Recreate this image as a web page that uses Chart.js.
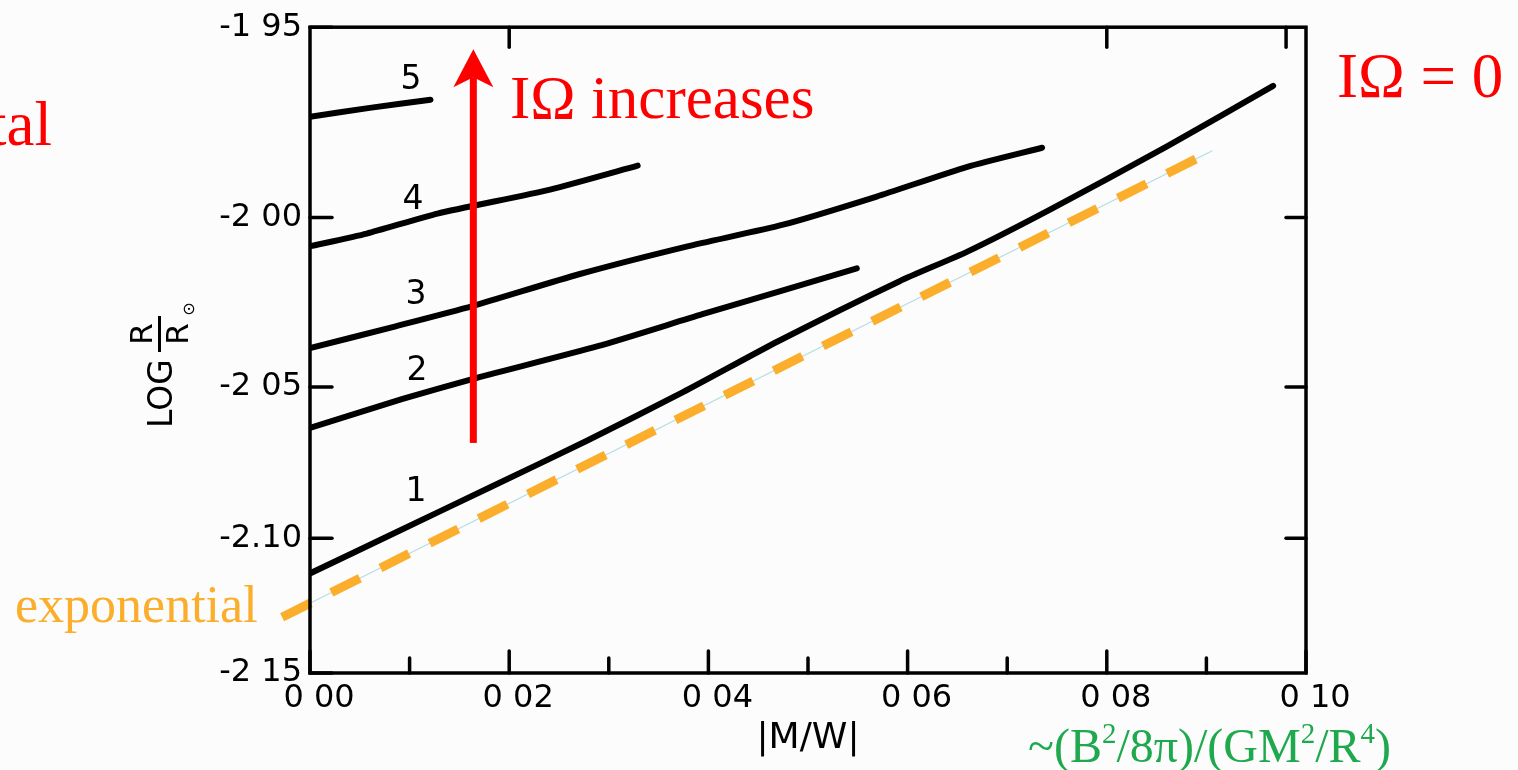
<!DOCTYPE html>
<html><head><meta charset="utf-8">
<script src="https://cdn.jsdelivr.net/npm/chart.js@4.4.1/dist/chart.umd.min.js"></script>
<style>html,body{margin:0;padding:0;background:#fcfcfc;overflow:hidden}#wrap{width:1518px;height:770px;position:relative}canvas{display:block}</style>
</head><body><div id="wrap"><canvas id="c" width="1518" height="770"></canvas></div>
<script>
// ---- data (y values are LOG R/R_sun) ----
const xTickValues = [0, 0.02, 0.04, 0.06, 0.08, 0.10];
const xTickLabels = ['0 00', '0 02', '0 04', '0 06', '0 08', '0 10'];
const xMinorTicks = [0.01, 0.03, 0.05, 0.07, 0.09];
const xTopTicks = [0.02, 0.08, 0.098];
const yTickValues = [-1.95, -2.00, -2.05, -2.10, -2.15];
const yTickLabels = ['-1 95', '-2 00', '-2 05', '-2.10', '-2 15'];
const yRightTicks = [-2.00, -2.05, -2.10];

const curve1X = [0, 0.0086, 0.0182, 0.0278, 0.0375, 0.0470, 0.0592, 0.0660, 0.0743, 0.0860, 0.0967];
const curve1Y = [-2.1125, -2.0980, -2.0823, -2.0671, -2.0515, -2.0359, -2.0181, -2.0096, -1.9978, -1.9807, -1.9648];
const curve2X = [0, 0.0093, 0.0163, 0.0289, 0.0394, 0.0549];
const curve2Y = [-2.0629, -2.0537, -2.0475, -2.0374, -2.0278, -2.0144];
const curve3X = [0, 0.0086, 0.0163, 0.0270, 0.0379, 0.0475, 0.0569, 0.0660, 0.0735];
const curve3Y = [-2.0380, -2.0314, -2.0254, -2.0161, -2.0081, -2.0020, -1.9942, -1.9861, -1.9810];
const curve4X = [0, 0.0057, 0.0128, 0.0241, 0.0329];
const curve4Y = [-2.0081, -2.0045, -1.9989, -1.9923, -1.9858];
const curve5X = [0, 0.0060, 0.0121];
const curve5Y = [-1.9728, -1.9705, -1.9684];
const curveNames = ['1', '2', '3', '4', '5'];

const expX = [-0.0028, 0.0894];
const expY = [-2.1286, -1.9834];
const guideX = [0, 0.0906];
const guideY = [-2.1234, -1.9818];

const arrowX = 0.0164;
const arrowFromY = -2.0678;
const arrowToY = -1.9555;

// the printed axis is linear in R, labelled in LOG R
const toR = v => Math.pow(10, v);
const pts = (xs, ys) => xs.map((x, i) => ({ x: x, y: toR(ys[i]) }));

const SANS = '"DejaVu Sans", Arial, sans-serif';
const SERIF = '"Liberation Serif", "Times New Roman", serif';

const curveStyle = {
  borderColor: '#000', borderWidth: 6, pointRadius: 0, tension: 0.2, order: 0,
  borderCapStyle: 'round', borderJoinStyle: 'round', fill: false
};

const datasets = [
  { label: 'guide', data: pts(guideX, guideY), borderColor: '#b3dde2', borderWidth: 1.2, pointRadius: 0, fill: false, clip: false, order: 10 },
  { label: 'exponential', data: pts(expX, expY), borderColor: '#fbae2c', borderWidth: 9, borderDash: [32, 23], borderCapStyle: 'butt', pointRadius: 0, fill: false, clip: false, order: 5 },
  Object.assign({ label: curveNames[0], data: pts(curve1X, curve1Y) }, curveStyle),
  Object.assign({ label: curveNames[1], data: pts(curve2X, curve2Y) }, curveStyle),
  Object.assign({ label: curveNames[2], data: pts(curve3X, curve3Y) }, curveStyle),
  Object.assign({ label: curveNames[3], data: pts(curve4X, curve4Y) }, curveStyle),
  Object.assign({ label: curveNames[4], data: pts(curve5X, curve5Y) }, curveStyle)
];

// curve label positions (pixels)
const curveLabelPos = [[416, 492], [417, 371], [416, 295], [413, 200], [411, 80]];

function line(ctx, x1, y1, x2, y2) { ctx.beginPath(); ctx.moveTo(x1, y1); ctx.lineTo(x2, y2); ctx.stroke(); }

const decor = {
  id: 'decor',
  afterDatasetsDraw(chart) {
    const ctx = chart.ctx, a = chart.chartArea, xs = chart.scales.x, ys = chart.scales.y;
    ctx.save();
    // frame
    ctx.strokeStyle = '#000'; ctx.lineWidth = 3.5; ctx.lineCap = 'butt';
    ctx.strokeRect(a.left, a.top, a.right - a.left, a.bottom - a.top);
    ctx.lineCap = 'round'; ctx.lineWidth = 3.5;
    xTickValues.forEach(v => { const p = xs.getPixelForValue(v); line(ctx, p, a.bottom, p, a.bottom - 22); });
    xMinorTicks.forEach(v => { const p = xs.getPixelForValue(v); line(ctx, p, a.bottom, p, a.bottom - 15); });
    xTopTicks.forEach(v => { const p = xs.getPixelForValue(v); line(ctx, p, a.top, p, a.top + 20); });
    yTickValues.forEach(v => { const p = ys.getPixelForValue(toR(v)); line(ctx, a.left, p, a.left + 22, p); });
    yRightTicks.forEach(v => { const p = ys.getPixelForValue(toR(v)); line(ctx, a.right, p, a.right - 20, p); });

    // curve numbers
    ctx.fillStyle = '#000'; ctx.font = '33px ' + SANS; ctx.textAlign = 'center'; ctx.textBaseline = 'middle';
    curveNames.forEach((n, i) => ctx.fillText(n, curveLabelPos[i][0], curveLabelPos[i][1]));

    // red arrow
    const ax = xs.getPixelForValue(arrowX);
    const ay0 = ys.getPixelForValue(toR(arrowFromY));
    const ay1 = ys.getPixelForValue(toR(arrowToY));
    ctx.fillStyle = '#ff0000';
    ctx.fillRect(ax - 3.5, ay1 + 28, 7, ay0 - ay1 - 28);
    ctx.beginPath();
    ctx.moveTo(ax, ay1); ctx.lineTo(ax + 20, ay1 + 38); ctx.lineTo(ax, ay1 + 28); ctx.lineTo(ax - 20, ay1 + 38); ctx.closePath();
    ctx.fill();

    // annotation texts
    ctx.textBaseline = 'alphabetic'; ctx.textAlign = 'left';
    ctx.font = '61px ' + SERIF; ctx.fillStyle = '#ff0000';
    ctx.fillText('I\u03A9 increases', 510, 118);
    ctx.font = '63px ' + SERIF;
    ctx.fillText('I\u03A9 = 0', 1337, 97);
    ctx.textAlign = 'right';
    ctx.fillText('tal', 52, 145);
    ctx.textAlign = 'left';
    ctx.font = '52px ' + SERIF; ctx.fillStyle = '#fbae2c';
    ctx.fillText('exponential', 15, 622);

    // green formula with superscripts
    ctx.fillStyle = '#1fa94e';
    const parts = [['~(B', 0], ['2', 1], ['/8\u03C0)/(GM', 0], ['2', 1], ['/R', 0], ['4', 1], [')', 0]];
    let gx = 1028; const gy = 762;
    parts.forEach(p => {
      ctx.font = (p[1] ? '29px ' : '48px ') + SERIF;
      ctx.fillText(p[0], gx, p[1] ? gy - 19 : gy);
      gx += ctx.measureText(p[0]).width;
    });

    // y-axis title: LOG R/R_sun (rotated)
    ctx.save();
    ctx.translate(172, 428);
    ctx.rotate(-Math.PI / 2);
    ctx.fillStyle = '#000';
    ctx.font = '33px ' + SANS; ctx.textAlign = 'left'; ctx.textBaseline = 'alphabetic';
    ctx.fillText('LOG', 0, 0);
    ctx.fillRect(76, -14, 36, 3);
    ctx.font = '31px ' + SANS; ctx.textAlign = 'center';
    ctx.fillText('R', 94, -20);
    ctx.fillText('R', 94, 16);
    ctx.font = '16px "DejaVu Sans"';
    ctx.fillText('\u2299', 119, 22);
    ctx.restore();

    ctx.restore();
  }
};

new Chart(document.getElementById('c'), {
  type: 'line',
  data: { datasets: datasets },
  options: {
    responsive: false, animation: false, devicePixelRatio: 1,
    layout: { padding: { left: 0, top: 25, right: 212, bottom: 0 } },
    plugins: { legend: { display: false }, tooltip: { enabled: false } },
    scales: {
      x: {
        type: 'linear', min: 0, max: 0.10,
        grid: { display: false, drawTicks: false },
        border: { display: false },
        afterBuildTicks: s => { s.ticks = xTickValues.map(v => ({ value: v })); },
        afterFit: s => { s.height = 97; },
        ticks: { autoSkip: false, maxRotation: 0, padding: 6, labelOffset: 9, color: '#000',
                 font: { family: SANS, size: 32 }, callback: (v, i) => xTickLabels[i] },
        title: { display: true, text: '|M/W|', color: '#000', font: { family: SANS, size: 36 },
                 padding: { top: 0, bottom: 10 } }
      },
      y: {
        type: 'linear', min: toR(-2.15), max: toR(-1.95),
        grid: { display: false, drawTicks: false },
        border: { display: false },
        afterBuildTicks: s => { s.ticks = yTickValues.map(v => ({ value: toR(v) })); },
        afterFit: s => { s.width = 310; },
        ticks: { autoSkip: false, padding: 8, color: '#000',
                 font: { family: SANS, size: 32 }, callback: (v, i) => yTickLabels[i] }
      }
    }
  },
  plugins: [decor]
});
</script></body></html>
